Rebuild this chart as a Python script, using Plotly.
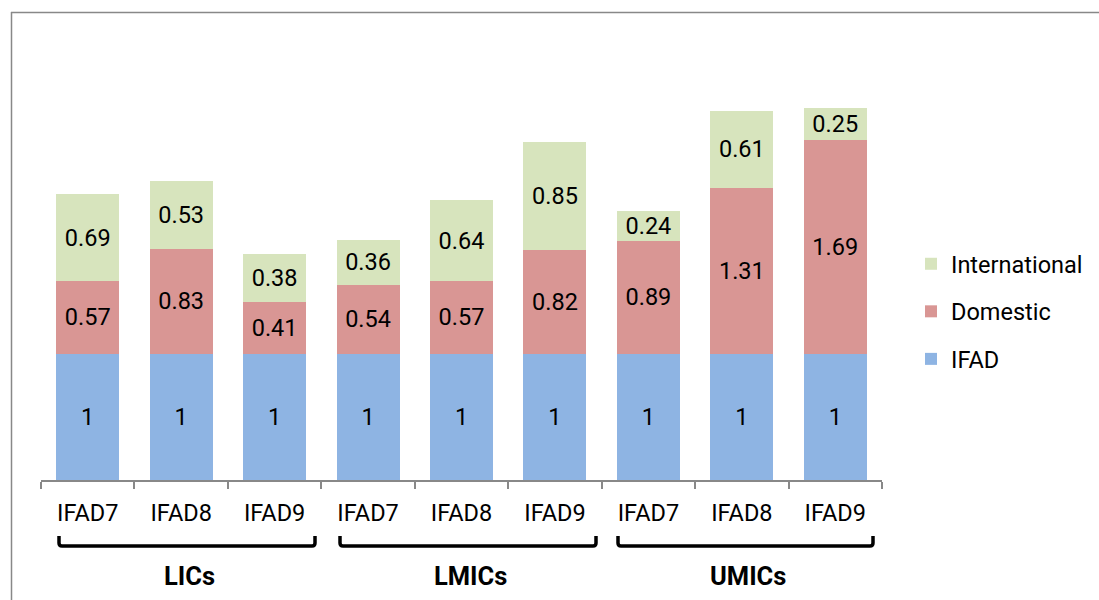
import plotly.graph_objects as go

groups = ["LICs", "LMICs", "UMICs"]
periods = ["IFAD7", "IFAD8", "IFAD9"]
categories = [f"{g} {p}" for g in groups for p in periods]
tick_labels = [p for g in groups for p in periods]

ifad = [1, 1, 1, 1, 1, 1, 1, 1, 1]
domestic = [0.57, 0.83, 0.41, 0.54, 0.57, 0.82, 0.89, 1.31, 1.69]
international = [0.69, 0.53, 0.38, 0.36, 0.64, 0.85, 0.24, 0.61, 0.25]

series = [
    ("IFAD", ifad, "#8EB4E3", 3),
    ("Domestic", domestic, "#D99694", 2),
    ("International", international, "#D7E4BD", 1),
]

FONT = "Roboto, Carlito, Calibri, sans-serif"

fig = go.Figure()
for name, vals, color, rank in series:
    fig.add_trace(go.Bar(
        x=categories, y=vals, name=name, legendgroup=name, legendrank=rank,
        marker=dict(color=color, line=dict(width=0)),
        text=[f"{v:g}" for v in vals], textposition="inside",
        insidetextanchor="middle", textangle=0, constraintext="none",
        textfont=dict(family=FONT, size=23.5, color="black"),
    ))

L, R, T, B = 41, 217, 40, 120
W, H = 1099, 600
pw, ph = W - L - R, H - T - B

def px_x(x):
    return (x - L) / pw

def px_y(y):
    return 1 - (y - T) / ph

shapes = []
# outer border (top and left)
shapes.append(dict(type="line", xref="paper", yref="paper",
                   x0=px_x(11), x1=px_x(1100), y0=px_y(12.5), y1=px_y(12.5),
                   line=dict(color="#888888", width=1.5)))
shapes.append(dict(type="line", xref="paper", yref="paper",
                   x0=px_x(11.5), x1=px_x(11.5), y0=px_y(12), y1=px_y(601),
                   line=dict(color="#888888", width=1.5)))

# braces under groups
brace_spans = [(59, 315), (340, 596), (618, 873)]
for x0, x1 in brace_spans:
    yt, yb = 536, 546
    r = 3
    path = (f"M {px_x(x0)},{px_y(yt)} L {px_x(x0)},{px_y(yb - r)} "
            f"Q {px_x(x0)},{px_y(yb)} {px_x(x0 + r)},{px_y(yb)} "
            f"L {px_x(x1 - r)},{px_y(yb)} "
            f"Q {px_x(x1)},{px_y(yb)} {px_x(x1)},{px_y(yb - r)} "
            f"L {px_x(x1)},{px_y(yt)}")
    shapes.append(dict(type="path", xref="paper", yref="paper", path=path,
                       line=dict(color="black", width=3.5)))

annotations = []
for g, (x0, x1) in zip(groups, brace_spans):
    annotations.append(dict(
        text=f"<b>{g}</b>", xref="paper", yref="paper",
        x=px_x((x0 + x1) / 2 + 2), y=px_y(576), showarrow=False,
        xanchor="center", yanchor="middle",
        font=dict(family=FONT, size=25.5, color="black")))

fig.update_layout(
    width=W, height=H,
    margin=dict(l=L, r=R, t=T, b=B, pad=0, autoexpand=False),
    paper_bgcolor="white", plot_bgcolor="white",
    barmode="stack", bargap=0.325,
    font=dict(family=FONT, size=23.5, color="black"),
    showlegend=True,
    legend=dict(traceorder="grouped", x=px_x(911), y=px_y(242),
                xanchor="left", yanchor="top", tracegroupgap=14,
                font=dict(family=FONT, size=23.5, color="black"),
                itemwidth=30, bgcolor="rgba(0,0,0,0)"),
    xaxis=dict(type="category", categoryorder="array", categoryarray=categories,
               tickvals=categories, ticktext=tick_labels,
               tickson="boundaries", ticks="outside", ticklen=7,
               tickcolor="#888888", tickwidth=1.5,
               showline=True, linecolor="#888888", linewidth=1.5,
               showgrid=False, zeroline=False,
               tickfont=dict(family=FONT, size=23.5, color="black"),
               ticklabelstandoff=11,
               range=[-0.5, 8.5]),
    yaxis=dict(range=[0, ph / 126.5], visible=False, showgrid=False,
               zeroline=False),
    shapes=shapes, annotations=annotations,
)

fig.write_html("out.html", config={"displayModeBar": False},
               post_script="document.body.style.margin='0';document.body.style.overflow='hidden';")
